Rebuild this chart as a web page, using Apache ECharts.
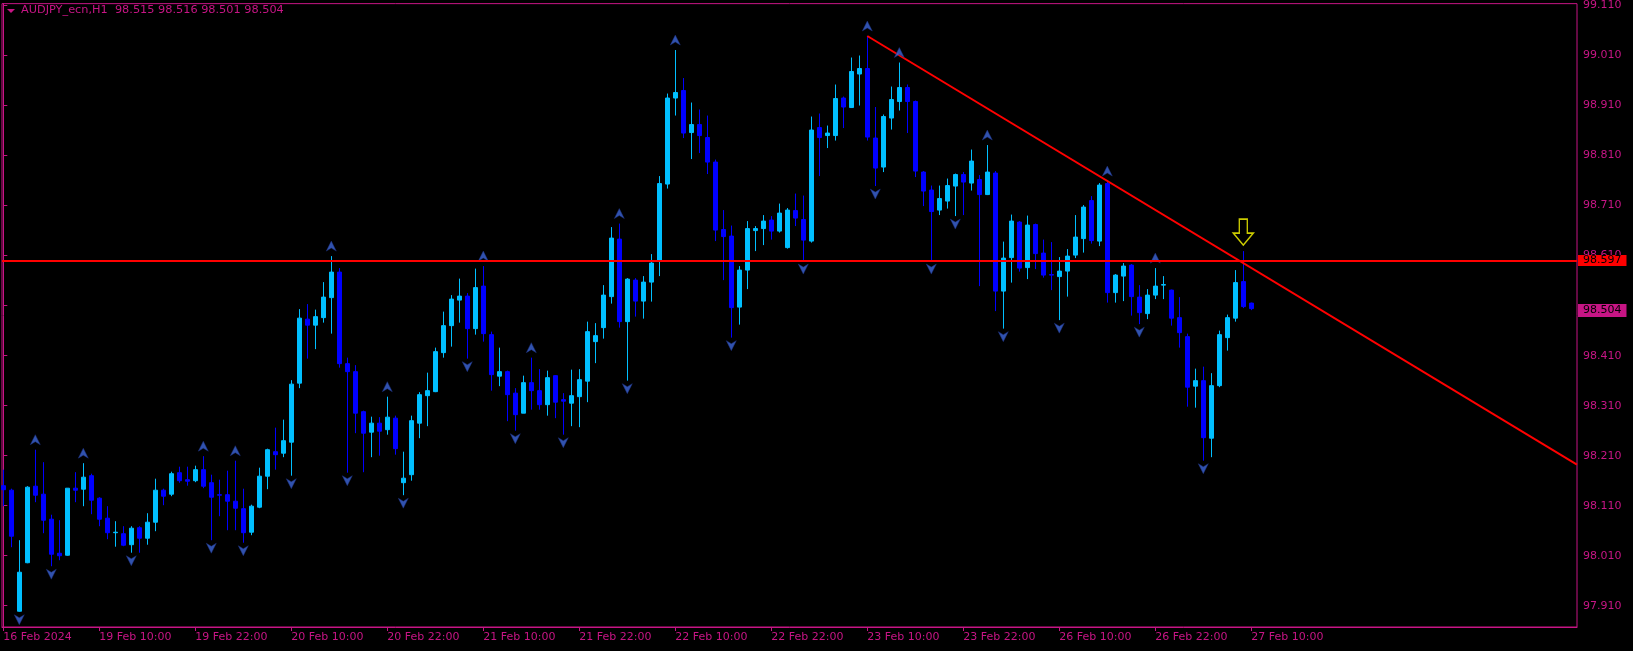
<!DOCTYPE html>
<html>
<head>
<meta charset="utf-8">
<script src="https://cdn.jsdelivr.net/npm/echarts@6/dist/echarts.min.js"></script>
<style>
html,body{margin:0;padding:0;background:#000;}
#c{width:1633px;height:651px;}
</style>
</head>
<body>
<div id="c"></div>
<script>
// ---- data ----
const symbolTitle = 'AUDJPY_ecn,H1  98.515 98.516 98.501 98.504';
const opens = [98.150,98.141,97.899,97.996,98.149,98.133,98.083,98.015,98.011,98.145,
98.143,98.170,98.125,98.085,98.056,98.054,98.032,98.066,98.045,98.077,
98.141,98.133,98.176,98.162,98.160,98.182,98.156,98.132,98.132,98.119,
98.104,98.057,98.107,98.169,98.218,98.215,98.237,98.355,98.483,98.471,
98.486,98.526,98.577,98.394,98.378,98.298,98.257,98.275,98.262,98.285,
98.156,98.172,98.275,98.330,98.338,98.416,98.470,98.521,98.529,98.464,
98.549,98.452,98.369,98.378,98.335,98.295,98.356,98.340,98.312,98.370,
98.322,98.315,98.328,98.359,98.438,98.466,98.528,98.643,98.478,98.561,
98.519,98.557,98.599,98.753,98.925,98.940,98.856,98.872,98.846,98.797,
98.662,98.649,98.507,98.581,98.660,98.664,98.681,98.659,98.626,98.700,
98.682,98.639,98.866,98.850,98.850,98.925,98.906,98.973,98.984,98.845,
98.787,98.885,98.918,98.946,98.918,98.777,98.741,98.701,98.719,98.749,
98.772,98.755,98.762,98.732,98.775,98.539,98.606,98.677,98.586,98.672,
98.615,98.572,98.568,98.579,98.611,98.644,98.720,98.639,98.754,98.536,
98.569,98.591,98.527,98.494,98.531,98.551,98.541,98.486,98.448,98.349,
98.360,98.245,98.350,98.446,98.485,98.558,98.515];
const highs = [98.182,98.144,98.041,98.149,98.222,98.197,98.092,98.081,98.145,98.177,
98.195,98.174,98.127,98.109,98.079,98.069,98.069,98.069,98.095,98.164,
98.144,98.178,98.188,98.188,98.190,98.209,98.172,98.162,98.180,98.200,
98.144,98.112,98.186,98.224,98.266,98.282,98.361,98.503,98.513,98.502,
98.557,98.609,98.585,98.406,98.391,98.300,98.288,98.287,98.328,98.290,
98.218,98.290,98.337,98.376,98.426,98.498,98.531,98.564,98.535,98.584,
98.589,98.458,98.426,98.380,98.345,98.370,98.406,98.383,98.380,98.371,
98.335,98.382,98.383,98.478,98.475,98.551,98.667,98.674,98.565,98.565,
98.569,98.613,98.769,98.934,99.021,98.965,98.916,98.902,98.890,98.802,
98.701,98.670,98.589,98.679,98.669,98.691,98.689,98.714,98.705,98.734,
98.730,98.888,98.894,98.870,98.952,98.928,99.006,99.010,99.049,98.907,
98.892,98.948,98.996,98.952,98.920,98.779,98.750,98.750,98.764,98.774,
98.777,98.822,98.771,98.831,98.779,98.638,98.692,98.679,98.690,98.674,
98.642,98.637,98.607,98.623,98.691,98.711,98.729,98.755,98.759,98.573,
98.595,98.593,98.551,98.543,98.585,98.569,98.542,98.527,98.454,98.384,
98.388,98.375,98.460,98.492,98.581,98.619,98.516];
const lows = [98.109,98.027,97.898,97.995,98.117,98.055,97.989,98.001,98.010,98.117,
98.109,98.093,98.069,98.043,98.028,98.029,98.016,98.016,98.032,98.059,
98.111,98.129,98.156,98.150,98.157,98.145,98.041,98.089,98.061,98.061,
98.036,98.051,98.105,98.143,98.182,98.207,98.170,98.345,98.404,98.423,
98.476,98.454,98.386,98.176,98.255,98.177,98.207,98.210,98.252,98.212,
98.131,98.160,98.245,98.269,98.337,98.406,98.428,98.476,98.404,98.452,
98.438,98.340,98.349,98.279,98.260,98.295,98.302,98.302,98.290,98.285,
98.252,98.269,98.267,98.317,98.395,98.444,98.514,98.466,98.360,98.488,
98.484,98.518,98.569,98.744,98.890,98.845,98.803,98.815,98.773,98.639,
98.561,98.446,98.472,98.543,98.619,98.631,98.642,98.656,98.624,98.669,
98.599,98.636,98.769,98.825,98.840,98.865,98.905,98.910,98.840,98.749,
98.777,98.862,98.900,98.855,98.767,98.709,98.599,98.691,98.704,98.689,
98.691,98.740,98.549,98.731,98.499,98.464,98.556,98.578,98.563,98.583,
98.566,98.541,98.481,98.528,98.605,98.616,98.634,98.629,98.516,98.516,
98.519,98.490,98.473,98.483,98.523,98.523,98.470,98.426,98.308,98.306,
98.200,98.207,98.347,98.420,98.478,98.505,98.501];
const closes = [98.142,98.049,97.977,98.147,98.131,98.081,98.013,98.010,98.145,98.141,
98.167,98.121,98.083,98.056,98.057,98.031,98.065,98.045,98.077,98.141,
98.129,98.174,98.160,98.159,98.182,98.149,98.127,98.131,98.119,98.105,
98.056,98.109,98.169,98.222,98.212,98.240,98.353,98.485,98.471,98.488,
98.527,98.577,98.394,98.378,98.295,98.255,98.275,98.259,98.287,98.224,
98.165,98.280,98.332,98.340,98.418,98.470,98.523,98.529,98.464,98.546,
98.454,98.372,98.378,98.332,98.292,98.356,98.340,98.312,98.366,98.317,
98.319,98.330,98.362,98.458,98.450,98.531,98.645,98.478,98.563,98.519,
98.557,98.595,98.754,98.925,98.936,98.855,98.872,98.850,98.797,98.661,
98.648,98.506,98.581,98.664,98.664,98.679,98.659,98.695,98.701,98.685,
98.641,98.861,98.846,98.855,98.924,98.907,98.978,98.984,98.847,98.785,
98.888,98.922,98.946,98.918,98.779,98.739,98.698,98.724,98.750,98.772,
98.757,98.799,98.732,98.777,98.539,98.605,98.679,98.585,98.671,98.614,
98.571,98.571,98.579,98.609,98.647,98.707,98.640,98.751,98.536,98.571,
98.589,98.528,98.496,98.531,98.549,98.552,98.485,98.456,98.347,98.360,
98.246,98.350,98.452,98.486,98.556,98.508,98.504];
const upFractals = [4,10,25,29,41,48,60,66,77,84,108,112,123,138,144];
const downFractals = [2,6,16,26,30,36,43,50,58,64,70,78,91,100,109,116,119,125,132,142,150];
const signalBars = [155];
const timeTickIdx = [0,12,24,36,48,60,72,84,96,108,120,132,144,156];
const timeTickLabels = ['16 Feb 2024','19 Feb 10:00','19 Feb 22:00','20 Feb 10:00','20 Feb 22:00',
  '21 Feb 10:00','21 Feb 22:00','22 Feb 10:00','22 Feb 22:00','23 Feb 10:00','23 Feb 22:00',
  '26 Feb 10:00','26 Feb 22:00','27 Feb 10:00'];
const priceTicks = [97.91,98.01,98.11,98.21,98.31,98.41,98.51,98.61,98.71,98.81,98.91,99.01,99.11];
const hLinePrice = 98.597;
const bidPrice = 98.504;
const trendLine = [[108, 99.049], [196.71, 98.192]];
const xRange = [-0.1625, 196.7125];
const yRange = [97.8675, 99.1137];

// ---- chart ----
const fg = '#C71585';
const font = 'DejaVu Sans';
const candles = opens.map((o, i) => [i, o, closes[i], lows[i], highs[i]]);
const tickLabelMap = {};
timeTickIdx.forEach((v, i) => { tickLabelMap[v] = timeTickLabels[i]; });

const chart = echarts.init(document.getElementById('c'), null, {renderer: 'canvas'});
chart.setOption({
  animation: false,
  backgroundColor: '#000000',
  grid: {left: 2, top: 2, width: 1575, height: 625, show: true, borderColor: fg, borderWidth: 1, backgroundColor: '#000'},
  graphic: [
    {type: 'polygon', shape: {points: [[7, 9], [15, 9], [11, 13]]}, style: {fill: fg}, z: 10},
    {type: 'text', left: 21, top: 5, style: {text: symbolTitle, fill: fg, font: '11.3px "' + font + '"'}, z: 10}
  ],
  xAxis: {
    type: 'value', min: xRange[0], max: xRange[1],
    axisLine: {show: true, lineStyle: {color: fg}},
    axisTick: {show: true, length: 4, customValues: timeTickIdx, lineStyle: {color: fg}},
    axisLabel: {customValues: timeTickIdx, formatter: v => tickLabelMap[Math.round(v)] || '',
      align: 'left', color: fg, fontSize: 11, fontFamily: font, margin: 5},
    splitLine: {show: false}
  },
  yAxis: {
    type: 'value', position: 'right', min: yRange[0], max: yRange[1], z: 0,
    axisLine: {show: true, lineStyle: {color: fg}},
    axisTick: {show: true, length: 4, customValues: priceTicks, lineStyle: {color: fg}},
    axisLabel: {customValues: priceTicks,
      formatter: v => (Math.abs(v - bidPrice) < 0.008 ? '' : v.toFixed(3)),
      color: fg, fontSize: 11, fontFamily: font, margin: 6},
    splitLine: {show: false}
  },
  series: [
    {
      type: 'candlestick', data: candles, barWidth: 4,
      itemStyle: {color: '#00BFFF', color0: '#0000FF', borderColor: '#00BFFF', borderColor0: '#0000FF', borderWidth: 1},
      markLine: {
        symbol: 'none', silent: true, animation: false, z: 8,
        data: [
          {yAxis: hLinePrice, lineStyle: {color: '#FF0000', width: 2, type: 'solid'},
           label: {show: true, position: 'end', formatter: hLinePrice.toFixed(3), backgroundColor: '#FF0000',
             color: '#000000', padding: [1, 5, 0, 5], fontSize: 11, lineHeight: 10, fontFamily: font, distance: 1}},
          {yAxis: bidPrice, lineStyle: {color: 'rgba(0,0,0,0)', width: 0},
           label: {show: true, position: 'end', formatter: bidPrice.toFixed(3), backgroundColor: fg,
             color: '#000000', padding: [1, 5, 1, 5], fontSize: 11, lineHeight: 11, fontFamily: font, distance: 1}}
        ]
      },
      z: 3
    },
    {
      type: 'line', data: trendLine, symbol: 'none', clip: true,
      lineStyle: {color: '#FF0000', width: 2}, z: 4
    },
    {
      type: 'scatter', data: upFractals.map(i => [i, highs[i]]),
      symbol: 'path://M5,0 L10,10 L5,7 L0,10 Z', symbolSize: [10, 10], symbolOffset: [0, -10],
      itemStyle: {color: '#3D66DA', borderColor: '#1C2F7A', borderWidth: 0.6}, z: 5
    },
    {
      type: 'scatter', data: downFractals.map(i => [i, lows[i]]),
      symbol: 'path://M0,0 L5,3 L10,0 L5,10 Z', symbolSize: [10, 10], symbolOffset: [0, 8],
      itemStyle: {color: '#3D66DA', borderColor: '#1C2F7A', borderWidth: 0.6}, z: 5
    },
    {
      type: 'scatter', data: signalBars.map(i => [i, highs[i]]),
      symbol: 'path://M6,0 L14,0 L14,14 L20,14 L10,26 L0,14 L6,14 Z', symbolSize: [20, 26], symbolOffset: [0, -19],
      itemStyle: {color: 'rgba(0,0,0,0)', borderColor: '#FFFF00', borderWidth: 1.5}, z: 6
    }
  ]
});
</script>
</body>
</html>
